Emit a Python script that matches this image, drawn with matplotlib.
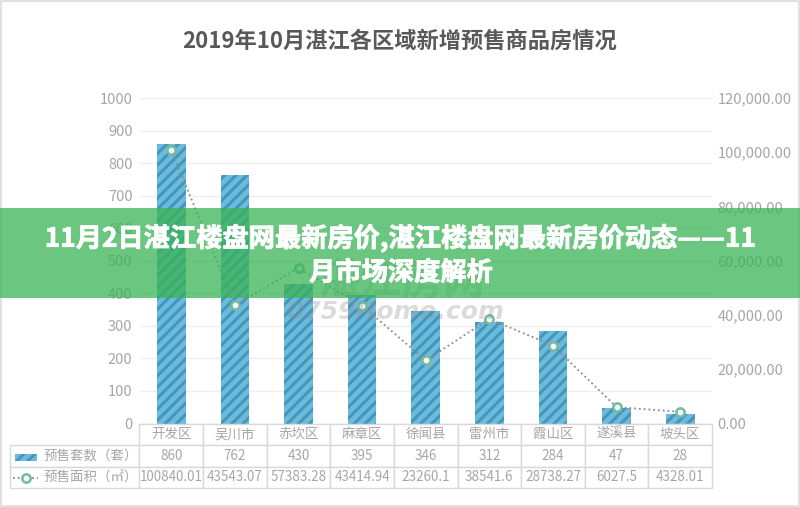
import matplotlib
matplotlib.use("Agg")
import numpy as np
import matplotlib.pyplot as plt
import matplotlib.patheffects as pe
from matplotlib.patches import Rectangle
from matplotlib.lines import Line2D
from matplotlib.table import Table

plt.rcParams['font.family'] = ['Noto Sans CJK SC', 'DejaVu Sans']
plt.rcParams['hatch.linewidth'] = 2.2

# data
districts = ["开发区", "吴川市", "赤坎区", "麻章区", "徐闻县", "雷州市", "霞山区", "遂溪县", "坡头区"]
units = [860, 762, 430, 395, 346, 312, 284, 47, 28]
area = [100840.01, 43543.07, 57383.28, 43414.94, 23260.1, 38541.6, 28738.27, 6027.5, 4328.01]
area_labels = ["100840.01", "43543.07", "57383.28", "43414.94", "23260.1", "38541.6", "28738.27", "6027.5", "4328.01"]
row_names = ["预售套数（套）", "预售面积（㎡）"]
left_ticks = [0, 100, 200, 300, 400, 500, 600, 700, 800, 900, 1000]
right_ticks = [0, 20000, 40000, 60000, 80000, 100000, 120000]

title = "2019年10月湛江各区域新增预售商品房情况"
banner_lines = ["11月2日湛江楼盘网最新房价,湛江楼盘网最新房价动态——11", "月市场深度解析"]

W, H = 800, 507
GRAY = '#a6a6a6'
BORDER = '#d9d9d9'
BAR = '#6bbcdc'
HATCH = '#4596bb'


def fx(px):
    return px / W


def fy(px):
    return 1 - px / H


fig = plt.figure(figsize=(W / 100, H / 100), dpi=100, facecolor='white')

# outer frame of the original picture
fig.add_artist(Rectangle((fx(1), fy(505.5)), fx(798), 504.5 / H, fill=False, ec='#dcdcdc', lw=1.2))

fig.text(0.5, fy(41), title, ha='center', va='center', fontsize=16, fontweight='bold', color='#595959')

ax = fig.add_axes([fx(139.5), fy(423.5), 572.5 / W, 325.5 / H])
x = np.arange(len(districts))

ax.bar(x, units, width=0.45, facecolor=BAR, edgecolor=HATCH, hatch='///', lw=0, zorder=2)
ax.set_xlim(-0.5, len(districts) - 0.5)
ax.set_ylim(0, 1000)
ax.set_yticks(left_ticks)
ax.set_xticks([])
ax.tick_params(axis='y', length=0, pad=5, labelsize=10.5, labelcolor=GRAY)
ax.grid(axis='y', color='#eeeeee', lw=1, zorder=0)
for s in ['top', 'left', 'right']:
    ax.spines[s].set_visible(False)
ax.spines['bottom'].set_color(BORDER)

ax2 = ax.twinx()
ax2.plot(x, area, ls=':', color='#8a8a8a', lw=1.3, marker='o', ms=6, mfc='#eef9f8', mec='#78b8a0', mew=1.8, zorder=3)
ax2.set_ylim(0, 120000)
ax2.set_yticks(right_ticks)
ax2.set_yticklabels([f"{v:,.2f}" for v in right_ticks])
ax2.tick_params(axis='y', length=0, pad=4, labelsize=10.5, labelcolor=GRAY)
for s in ax2.spines.values():
    s.set_visible(False)

# data table below the plot, bbox only counts the data cells, row labels hang to the left
tbl = Table(ax2, bbox=[0, -64.5 / 325.5, 1, 64.5 / 325.5])
tbl.auto_set_font_size(False)
label_w, col_w, row_h = 129.5 / 572.5, 1 / 9, 21.5 / 325.5
rows = [districts, [str(v) for v in units], area_labels]
for r, vals in enumerate(rows):
    if r > 0:
        tbl.add_cell(r, -1, label_w, row_h, text=row_names[r - 1], loc='right')
    for c, v in enumerate(vals):
        tbl.add_cell(r, c, col_w, row_h, text=v, loc='center')
for (r, c), cell in tbl.get_celld().items():
    cell.set_edgecolor(BORDER)
    cell.set_linewidth(1)
    cell.get_text().set_color(GRAY)
    cell.get_text().set_fontsize(9.7)
    cell.PAD = 0.01
ax2.add_table(tbl)

# legend keys inside the row labels
fig.add_artist(Rectangle((fx(15), fy(460.5)), 22 / W, 7 / H, facecolor=BAR, edgecolor=HATCH, hatch='///', lw=0))
fig.add_artist(Line2D([fx(13), fx(38)], [fy(478), fy(478)], ls=':', color='#8a8a8a', lw=1.3))
fig.add_artist(Line2D([fx(25.5)], [fy(478)], marker='o', ms=6, mfc='#eef9f8', mec='#78b8a0', mew=1.8))

# watermark of the source site
fig.text(fx(395), fy(312), "0759Home.com", ha='center', va='center', fontsize=18, fontweight='bold',
         style='italic', family=['DejaVu Sans'], color='#8a8a8a', alpha=0.3, zorder=5)
fig.text(fx(402), fy(282), "湛江房网", ha='center', va='center', fontsize=30, fontweight='bold',
         color='#8a8a8a', alpha=0.3, zorder=5)

# green banner across the chart
fig.add_artist(Rectangle((0, fy(298)), 1, 90 / H, facecolor='#3ab354', alpha=0.75, lw=0, zorder=10))
thick = [pe.withStroke(linewidth=0.6, foreground='white')]
fig.text(0.5, fy(238.5), banner_lines[0], ha='center', va='center', fontsize=18.9, fontweight='bold',
         color='white', zorder=11, path_effects=thick)
fig.text(fx(401), fy(273), banner_lines[1], ha='center', va='center', fontsize=18.9, fontweight='bold',
         color='white', zorder=11, path_effects=thick)

fig.savefig("out.png", dpi=100)
